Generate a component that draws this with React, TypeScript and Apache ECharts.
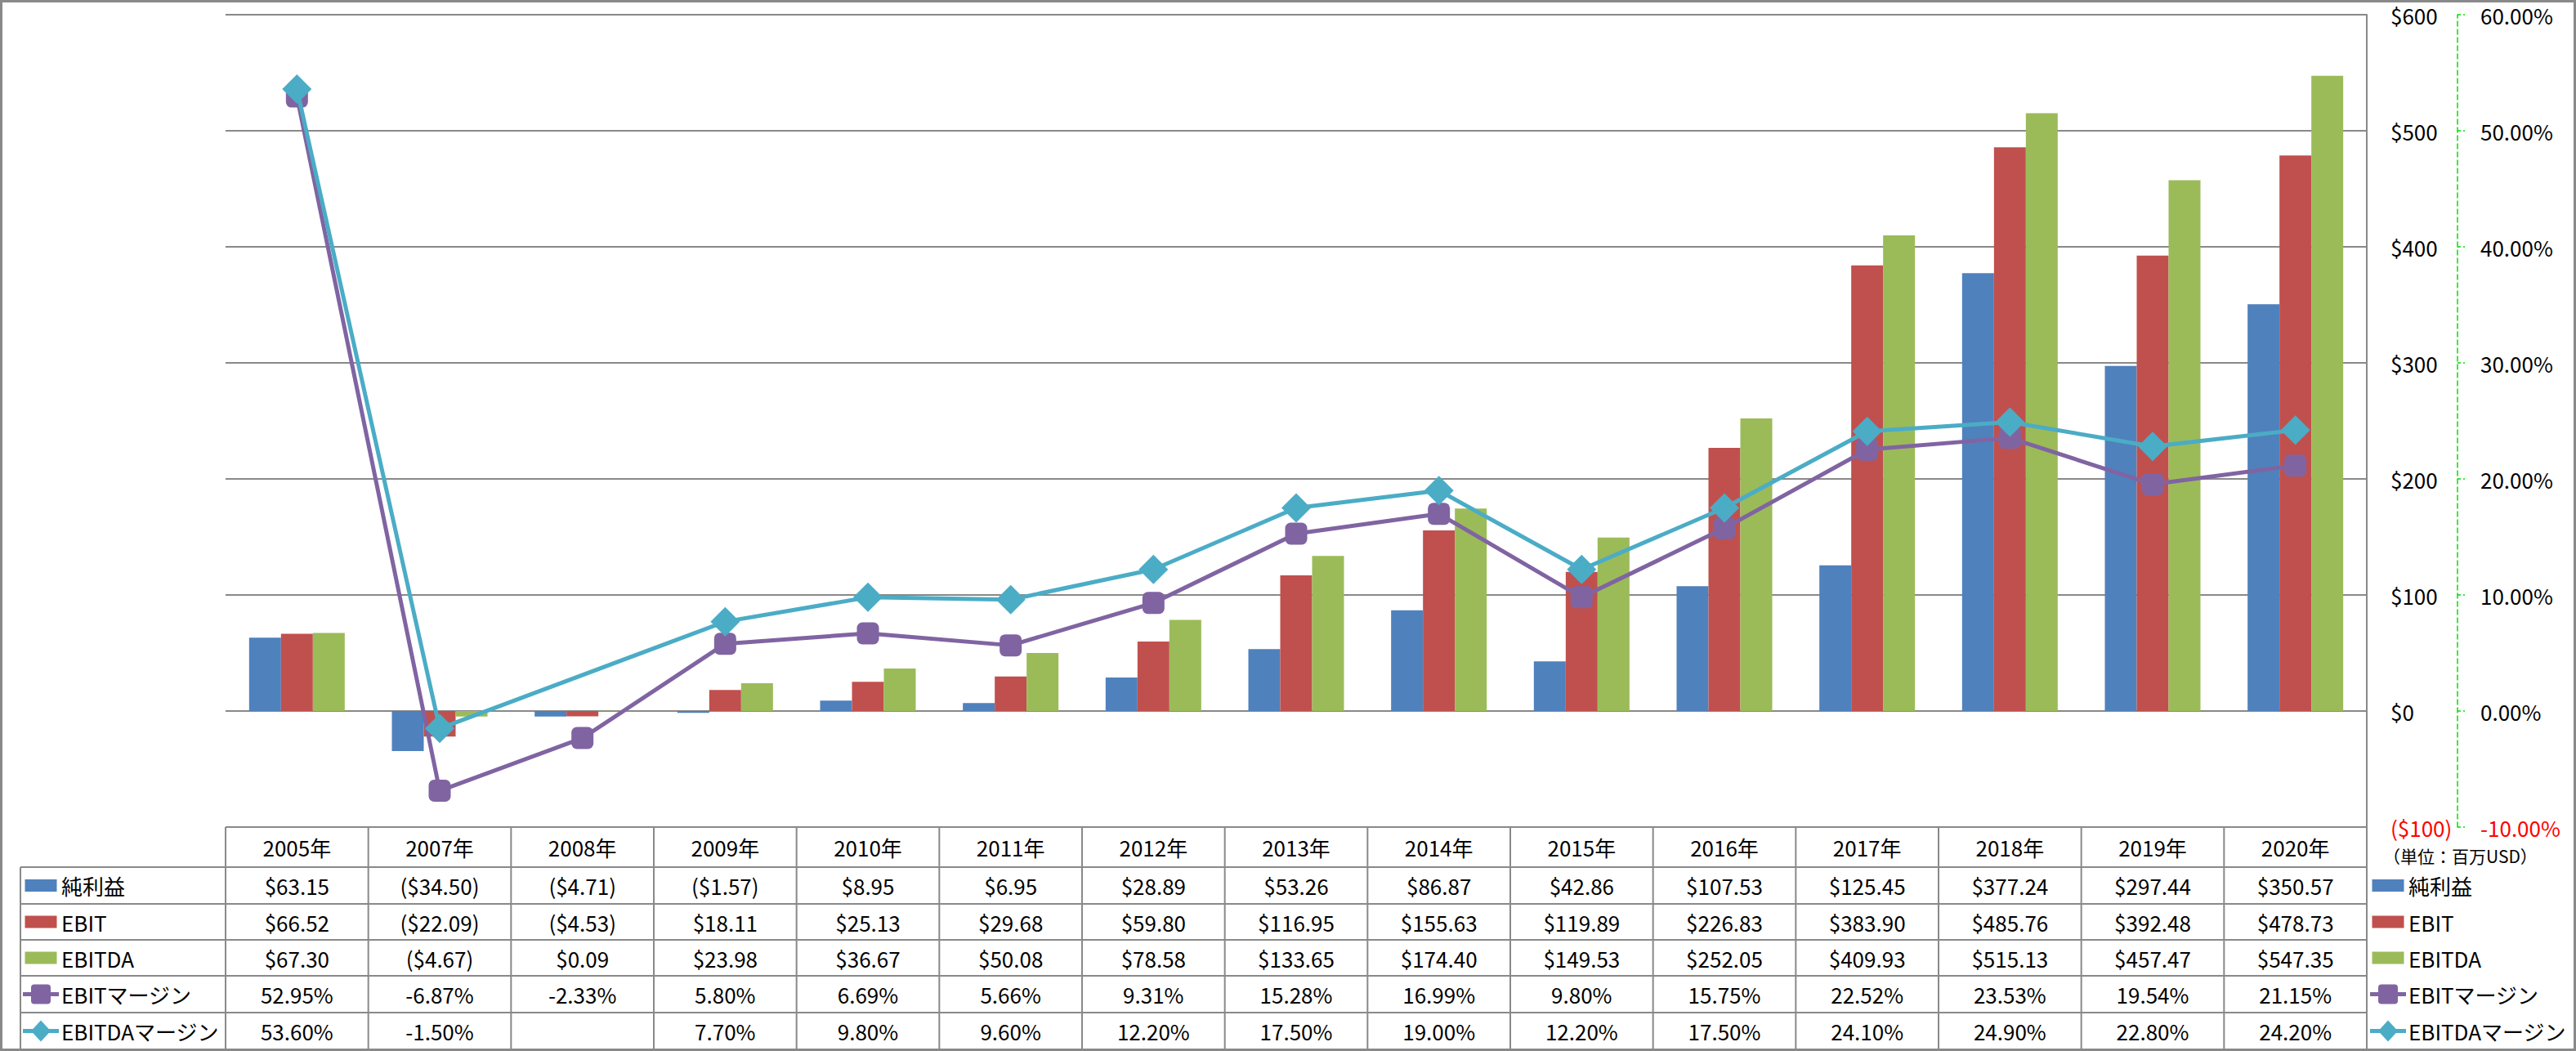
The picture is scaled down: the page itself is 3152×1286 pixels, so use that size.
import React, { useEffect, useRef } from "react";
import * as echarts from "echarts";

// ---- data ----
const years = ["2005年", "2007年", "2008年", "2009年", "2010年", "2011年", "2012年", "2013年", "2014年", "2015年", "2016年", "2017年", "2018年", "2019年", "2020年"];
const netIncome = [63.15, -34.5, -4.71, -1.57, 8.95, 6.95, 28.89, 53.26, 86.87, 42.86, 107.53, 125.45, 377.24, 297.44, 350.57];
const ebit = [66.52, -22.09, -4.53, 18.11, 25.13, 29.68, 59.8, 116.95, 155.63, 119.89, 226.83, 383.9, 485.76, 392.48, 478.73];
const ebitda = [67.3, -4.67, 0.09, 23.98, 36.67, 50.08, 78.58, 133.65, 174.4, 149.53, 252.05, 409.93, 515.13, 457.47, 547.35];
const ebitMargin = [52.95, -6.87, -2.33, 5.8, 6.69, 5.66, 9.31, 15.28, 16.99, 9.8, 15.75, 22.52, 23.53, 19.54, 21.15];
const ebitdaMargin: (number | null)[] = [53.6, -1.5, null, 7.7, 9.8, 9.6, 12.2, 17.5, 19.0, 12.2, 17.5, 24.1, 24.9, 22.8, 24.2];
const seriesNames = ["純利益", "EBIT", "EBITDA", "EBITマージン", "EBITDAマージン"];
const unitLabel = "（単位：百万USD）";

// ---- layout / style ----
const W = 3152;
const H = 1286;
const GL = 276;
const GT = 18;
const GW = 2620;
const GH = 994;
const FONT = "'Noto Sans CJK JP', 'Noto Sans', sans-serif";
const FS = 26;
const GRAY = "#898989";
const COLORS = ["#4F81BD", "#C0504D", "#9BBB59", "#8064A2", "#4BACC6"];
const ROW_Y = [1012, 1061, 1106, 1150, 1194, 1239, 1284];

const fmtMoney = (v: number | null) => {
  if (v == null) return "";
  const s = "$" + Math.abs(v).toFixed(2);
  return v < 0 ? `(${s})` : s;
};
const fmtPct = (v: number | null) => (v == null ? "" : v.toFixed(2) + "%");

function txt(x: number, y: number, text: string, align: string, size = FS, color = "#000") {
  return {
    type: "text",
    silent: true,
    z: 10,
    x,
    y,
    style: {
      text,
      fill: color,
      fontSize: size,
      fontFamily: FONT,
      align,
      verticalAlign: "middle",
      textAlign: align,
      textVerticalAlign: "middle",
    },
  };
}
function ln(x1: number, y1: number, x2: number, y2: number, w = 2, color = GRAY, dash?: number[]) {
  return {
    type: "line",
    silent: true,
    z: 9,
    shape: { x1, y1, x2, y2 },
    style: { stroke: color, lineWidth: w, lineDash: dash },
  };
}
function legendKey(i: number, cx: number, cy: number) {
  const els: any[] = [];
  const c = COLORS[i];
  if (i < 3) {
    els.push({ type: "rect", silent: true, z: 10, shape: { x: cx - 19.5, y: cy - 7.5, width: 39, height: 15 }, style: { fill: c } });
  } else {
    els.push(ln(cx - 22, cy, cx + 22, cy, 5, c));
    if (i === 3) {
      els.push({ type: "rect", silent: true, z: 11, shape: { x: cx - 12, y: cy - 12, width: 24, height: 24, r: 4 }, style: { fill: c } });
    } else {
      els.push({ type: "polygon", silent: true, z: 11, shape: { points: [[cx, cy - 13], [cx + 12, cy], [cx, cy + 13], [cx - 12, cy]] }, style: { fill: c } });
    }
  }
  return els;
}

export default function App() {
  const ref = useRef<HTMLDivElement>(null);
  useEffect(() => {
    if (!ref.current) return;
    const chart = echarts.init(ref.current, null, { renderer: "svg" });
    const colW = GW / years.length;
    const rows = [
      netIncome.map(fmtMoney),
      ebit.map(fmtMoney),
      ebitda.map(fmtMoney),
      ebitMargin.map(fmtPct),
      ebitdaMargin.map(fmtPct),
    ];
    const g: any[] = [];
    // outer frame
    g.push({ type: "rect", silent: true, z: 12, shape: { x: 1.5, y: 1.5, width: W - 3, height: H - 3 }, style: { fill: "none", stroke: GRAY, lineWidth: 3 } });
    // table grid
    for (let i = 0; i <= years.length; i++) {
      const x = GL + i * colW;
      g.push(ln(x, ROW_Y[0], x, ROW_Y[6]));
    }
    g.push(ln(GL + GW, GT, GL + GW, ROW_Y[0]));
    g.push(ln(GL, ROW_Y[0], GL + GW, ROW_Y[0]));
    for (let r = 1; r < 6; r++) g.push(ln(25, ROW_Y[r], GL + GW, ROW_Y[r]));
    g.push(ln(25, ROW_Y[1], 25, ROW_Y[6]));
    // header
    years.forEach((y, i) => g.push(txt(GL + (i + 0.5) * colW, (ROW_Y[0] + ROW_Y[1]) / 2, y, "center")));
    // rows
    rows.forEach((vals, r) => {
      const cy = (ROW_Y[r + 1] + ROW_Y[r + 2]) / 2;
      vals.forEach((v, i) => g.push(txt(GL + (i + 0.5) * colW, cy, v, "center")));
      g.push(...legendKey(r, 50, cy));
      g.push(txt(75, cy, seriesNames[r], "left"));
      g.push(...legendKey(r, 2922, cy));
      g.push(txt(2947, cy, seriesNames[r], "left"));
    });
    g.push(txt(2916, 1047, unitLabel, "left", 21));

    chart.setOption({
      animation: false,
      backgroundColor: "#fff",
      textStyle: { fontFamily: FONT },
      grid: { left: GL, top: GT, width: GW, height: GH, containLabel: false },
      xAxis: {
        type: "category",
        data: years,
        axisLine: { show: false },
        axisTick: { show: false },
        axisLabel: { show: false },
        splitLine: { show: false },
      },
      yAxis: [
        {
          type: "value",
          position: "right",
          min: -100,
          max: 600,
          interval: 100,
          axisLine: { show: true, lineStyle: { color: GRAY, width: 2 } },
          axisTick: { show: false },
          splitLine: { show: true, lineStyle: { color: GRAY, width: 2 } },
          axisLabel: {
            margin: 29,
            fontSize: FS,
            fontFamily: FONT,
            color: "#000",
            formatter: (v: number) => (v < 0 ? `{neg|($${-v})}` : `$${v}`),
            rich: { neg: { color: "#FF0000", fontSize: FS, fontFamily: FONT } },
          },
        },
        {
          type: "value",
          position: "right",
          offset: 111,
          min: -10,
          max: 60,
          interval: 10,
          axisLine: { show: true, lineStyle: { color: "#00E000", width: 1.5, type: [6, 4] } },
          axisTick: { show: true, length: 9, lineStyle: { color: "#00E000", width: 1.5, type: [4, 3] } },
          splitLine: { show: false },
          axisLabel: {
            margin: 28,
            fontSize: FS,
            fontFamily: FONT,
            color: "#000",
            formatter: (v: number) => (v < 0 ? `{neg|${v.toFixed(2)}%}` : `${v.toFixed(2)}%`),
            rich: { neg: { color: "#FF0000", fontSize: FS, fontFamily: FONT } },
          },
        },
      ],
      series: [
        { name: seriesNames[0], type: "bar", data: netIncome, barWidth: 39, barGap: "0%", itemStyle: { color: COLORS[0] } },
        { name: seriesNames[1], type: "bar", data: ebit, barWidth: 39, barGap: "0%", itemStyle: { color: COLORS[1] } },
        { name: seriesNames[2], type: "bar", data: ebitda, barWidth: 39, barGap: "0%", itemStyle: { color: COLORS[2] } },
        {
          name: seriesNames[3],
          type: "line",
          yAxisIndex: 1,
          data: ebitMargin,
          symbol: "roundRect",
          symbolSize: 27,
          lineStyle: { width: 5, color: COLORS[3] },
          itemStyle: { color: COLORS[3] },
          z: 5,
        },
        {
          name: seriesNames[4],
          type: "line",
          yAxisIndex: 1,
          data: ebitdaMargin,
          connectNulls: true,
          symbol: "diamond",
          symbolSize: 36,
          lineStyle: { width: 5, color: COLORS[4] },
          itemStyle: { color: COLORS[4] },
          z: 6,
        },
      ],
      graphic: g,
    });
    return () => chart.dispose();
  }, []);
  return <div ref={ref} style={{ position: "fixed", left: 0, top: 0, width: W, height: H }} />;
}
